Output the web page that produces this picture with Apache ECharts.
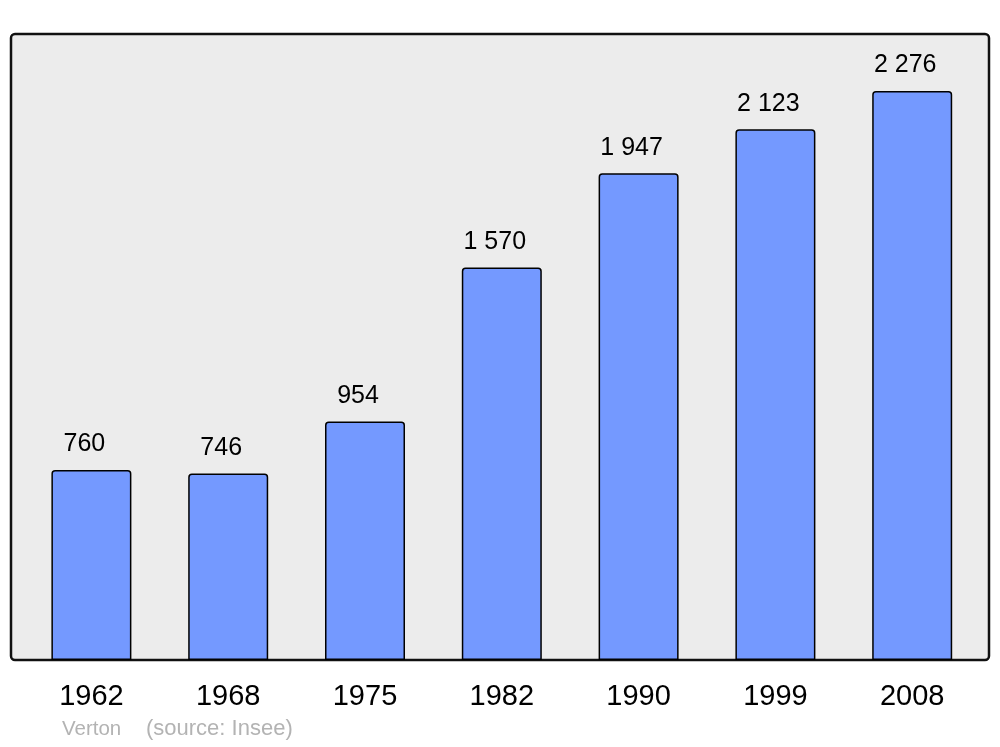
<!DOCTYPE html>
<html>
<head>
<meta charset="utf-8">
<script src="https://cdn.jsdelivr.net/npm/echarts@6/dist/echarts.min.js"></script>
<style>
  html, body { margin: 0; padding: 0; background: #fff; }
  #chart { width: 1000px; height: 747px; }
</style>
</head>
<body>
<div id="chart"></div>
<script>
const years = ["1962", "1968", "1975", "1982", "1990", "1999", "2008"];
const population = [760, 746, 954, 1570, 1947, 2123, 2276];
const townName = "Verton";
const sourceText = "(source: Insee)";

const fmt = v => String(v).replace(/\B(?=(\d{3})+(?!\d))/g, " ");

const chart = echarts.init(document.getElementById("chart"));
chart.setOption({
  animation: false,
  textStyle: { fontFamily: "Liberation Sans, Arial, sans-serif" },
  graphic: [
    {
      type: "rect",
      z: -10,
      shape: { x: 11, y: 34, width: 978, height: 626, r: 4 },
      style: { fill: "#ececec", stroke: "#111", lineWidth: 2.5 }
    },
    {
      type: "text",
      left: 62,
      top: 719,
      style: { text: townName, fill: "#b3b3b3", fontSize: 20.5, fontFamily: "Liberation Sans" }
    },
    {
      type: "text",
      left: 146,
      top: 718,
      style: { text: sourceText, fill: "#b3b3b3", fontSize: 22, fontFamily: "Liberation Sans" }
    }
  ],
  grid: { left: 23, right: 19.4, top: 34, bottom: 87, containLabel: false },
  xAxis: {
    type: "category",
    data: years,
    axisLine: { show: false },
    axisTick: { show: false },
    axisLabel: { color: "#000", fontSize: 29, margin: 22 }
  },
  yAxis: {
    type: "value",
    min: 0,
    max: 2504,
    show: false,
    splitLine: { show: false }
  },
  series: [{
    type: "bar",
    data: population,
    barWidth: 80,
    itemStyle: {
      color: "#7499ff",
      borderColor: "#000",
      borderWidth: 1.5,
      borderRadius: [3, 3, 0, 0]
    },
    label: {
      show: true,
      position: "top",
      distance: 13,
      offset: [-7, 0],
      color: "#000",
      fontSize: 25,
      formatter: p => fmt(p.value)
    }
  }]
});
</script>
</body>
</html>
